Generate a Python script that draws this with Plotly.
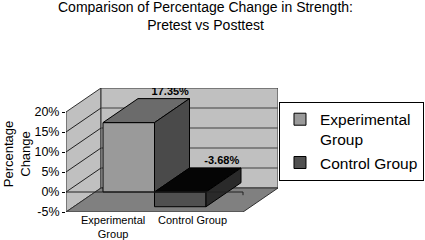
import plotly.graph_objects as go

# ---------------- data ----------------
categories = ["Experimental Group", "Control Group"]
legend_names = ["Experimental<br>Group", "Control Group"]
axis_labels = ["Experimental<br>Group", "Control Group"]
values = [17.35, -3.68]
value_labels = ["17.35%", "-3.68%"]
ytick_vals = [-5, 0, 5, 10, 15, 20]
ytick_text = ["-5%", "0%", "5%", "10%", "15%", "20%"]

# ---------------- styles / geometry ----------------
front_colors = ["#9a9a9a", "#505050"]
top_colors = ["#6b6b6b", "#050505"]
side_colors = ["#4a4a4a", "#2a2a2a"]
WALL = "#c0c0c0"
FLOOR = "#808080"
EDGE = "#303030"
FONT = "Liberation Sans, Arial, sans-serif"

FRONT_W = 177.0   # width of front plane in x units
DX = 35.0         # depth offset (x units)
DY = 6.0          # depth offset (% units)
BW = 51.5         # bar width
Y_MIN, Y_MAX = -5, 20
LABEL_X = [47, 126]

n = len(values)
group_left = FRONT_W / 2 - BW * n / 2
centers = [group_left + BW * (i + 0.5) for i in range(n)]

fig = go.Figure()

# front faces: real bars
for i in range(n):
    fig.add_trace(go.Bar(
        x=[centers[i]], y=[values[i]], width=[BW],
        name=legend_names[i],
        marker=dict(color=front_colors[i], line=dict(color="#000000", width=1)),
        hoverinfo="skip",
    ))

# top and side faces derived from the values
for i in range(n):
    v = values[i]
    x0, x1 = centers[i] - BW / 2, centers[i] + BW / 2
    top, bot = max(v, 0), min(v, 0)
    fig.add_trace(go.Scatter(
        x=[x0, x1, x1 + DX, x0 + DX, x0],
        y=[top, top, top + DY, top + DY, top],
        fill="toself", fillcolor=top_colors[i], mode="lines",
        line=dict(color="#000000", width=1), showlegend=False,
        hoverinfo="skip"))
    fig.add_trace(go.Scatter(
        x=[x1, x1, x1 + DX, x1 + DX, x1],
        y=[bot, top, top + DY, bot + DY, bot],
        fill="toself", fillcolor=side_colors[i], mode="lines",
        line=dict(color="#000000", width=1), showlegend=False,
        hoverinfo="skip"))

# value labels
fig.add_trace(go.Scatter(
    x=[c + DX + 6.5 for c in centers],
    y=[max(v, 0) + DY + 1.7 for v in values],
    text=value_labels, texttemplate="<b>%{text}</b>",
    mode="text", textposition="middle center",
    textfont=dict(family=FONT, size=11, color="#000000"),
    showlegend=False, hoverinfo="skip"))

# walls, floor, gridlines
shapes = []
shapes.append(dict(type="path", xref="x", yref="y", layer="below",
                   path=f"M0,{Y_MIN} L0,{Y_MAX} L{DX},{Y_MAX+DY} L{DX},{Y_MIN+DY} Z",
                   fillcolor=WALL, line=dict(color=EDGE, width=1)))
shapes.append(dict(type="path", xref="x", yref="y", layer="below",
                   path=f"M{DX},{Y_MIN+DY} L{DX},{Y_MAX+DY} L{FRONT_W+DX},{Y_MAX+DY} L{FRONT_W+DX},{Y_MIN+DY} Z",
                   fillcolor=WALL, line=dict(color=EDGE, width=1)))
shapes.append(dict(type="path", xref="x", yref="y", layer="below",
                   path=f"M0,{Y_MIN} L{FRONT_W},{Y_MIN} L{FRONT_W+DX},{Y_MIN+DY} L{DX},{Y_MIN+DY} Z",
                   fillcolor=FLOOR, line=dict(color=EDGE, width=1)))
for v in ytick_vals[1:-1]:
    shapes.append(dict(type="line", xref="x", yref="y", layer="below",
                       x0=0, y0=v, x1=DX, y1=v + DY, line=dict(color="#202020", width=1)))
    shapes.append(dict(type="line", xref="x", yref="y", layer="below",
                       x0=DX, y0=v + DY, x1=FRONT_W + DX, y1=v + DY,
                       line=dict(color="#404040", width=1)))
shapes.append(dict(type="path", xref="x", yref="y", layer="above",
                   path=f"M0,0 L{FRONT_W},0 L{FRONT_W},-0.8",
                   line=dict(color="#202020", width=1)))

annotations = [
    dict(text="Comparison of Percentage Change in Strength:<br>Pretest vs Posttest",
         xref="paper", yref="paper", x=(205.5 - 66) / 212, y=1 + 91 / 124,
         xanchor="center", yanchor="top", showarrow=False,
         font=dict(family=FONT, size=14, color="#000000")),
    dict(text="Percentage<br>Change", xref="paper", yref="paper",
         x=(16.5 - 66) / 212, y=0.47, xanchor="center", yanchor="middle", textangle=-90,
         showarrow=False, font=dict(family=FONT, size=13, color="#000000")),
]
for lx, lab in zip(LABEL_X, axis_labels):
    annotations.append(dict(text=lab, xref="x", yref="paper", x=lx, y=0,
                            xanchor="center", yanchor="top", showarrow=False,
                            font=dict(family=FONT, size=11, color="#000000")))

fig.update_layout(
    width=425, height=240,
    margin=dict(l=66, r=147, t=88, b=28, autoexpand=False),
    paper_bgcolor="white", plot_bgcolor="white",
    barmode="overlay",
    xaxis=dict(range=[0, FRONT_W + DX], showgrid=False, zeroline=False,
               showticklabels=False, ticks="", showline=False, fixedrange=True),
    yaxis=dict(range=[Y_MIN, Y_MAX + DY], showgrid=False, zeroline=False,
               tickvals=ytick_vals, ticktext=ytick_text, ticks="outside",
               ticklen=3, tickcolor="#000000", showline=False, fixedrange=True,
               tickfont=dict(family=FONT, size=12.5, color="#000000")),
    legend=dict(x=1.0047, y=0.89, xanchor="left", yanchor="top",
                bordercolor="#000000", borderwidth=1, bgcolor="white",
                font=dict(family=FONT, size=15.5, color="#000000"),
                itemwidth=30, tracegroupgap=0, valign="top"),
    shapes=shapes, annotations=annotations,
    showlegend=True,
)

fig.write_html("out.html", config={"displayModeBar": False},
               post_script="document.body.style.margin='0';")
